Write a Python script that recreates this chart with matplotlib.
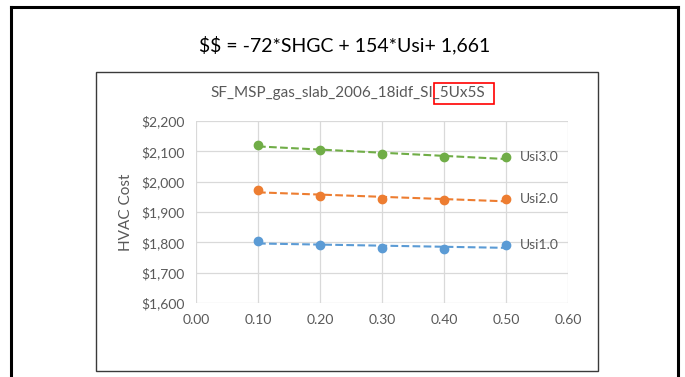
import numpy as np
import matplotlib
matplotlib.use("Agg")
import matplotlib.pyplot as plt
from matplotlib.patches import Rectangle
from matplotlib.lines import Line2D

plt.rcParams['font.family'] = ['Lato', 'DejaVu Sans']
plt.rcParams['text.parse_math'] = False

# ---- data ----
shgc = [0.10, 0.20, 0.30, 0.40, 0.50]
usi1 = [1804, 1790, 1781, 1778, 1792]
usi2 = [1972, 1954, 1943, 1938, 1943]
usi3 = [2122, 2103, 2090, 2081, 2081]
series_names = ["Usi1.0", "Usi2.0", "Usi3.0"]
series_colors = ["#5B9BD5", "#ED7D31", "#70AD47"]
x_ticks = [0.00, 0.10, 0.20, 0.30, 0.40, 0.50, 0.60]
y_ticks = [1600, 1700, 1800, 1900, 2000, 2100, 2200]
equation = "$$ = -72*SHGC + 154*Usi+ 1,661"
chart_title = "SF_MSP_gas_slab_2006_18idf_SI"
chart_title_boxed = "_5Ux5S"
y_label = "HVAC Cost"

W, H = 685, 377
fig = plt.figure(figsize=(W / 100, H / 100), dpi=100)
fig.patch.set_facecolor("white")

def fx(px):
    return px / W

def fy(py):
    return 1 - py / H

# outer black frame (bottom edge runs off the picture)
for xs, ys in [([11, 11], [7, H + 5]), ([11, 678], [7, 7]), ([678, 678], [7, H + 5])]:
    fig.add_artist(Line2D([fx(v) for v in xs], [fy(v) for v in ys], color="black", lw=2.2,
                          transform=fig.transFigure))

# inner chart frame
fig.add_artist(Rectangle((fx(96), fy(371)), fx(598) - fx(96), fy(72) - fy(371),
                         transform=fig.transFigure, fill=False, edgecolor="#3a3a3a", lw=1.0))

# equation
fig.text(fx(345), fy(45), equation, ha="center", va="center", fontsize=14, color="black",
         parse_math=False)

# chart title with red box around the last part
title_fs = 11
full_title = chart_title + chart_title_boxed
t = fig.text(fx(348), fy(93), full_title, ha="center", va="center", fontsize=title_fs, color="#595959")
fig.canvas.draw()
r = fig.canvas.get_renderer()
bb_full = t.get_window_extent(r)
tmp = fig.text(0, 0, chart_title, fontsize=title_fs)
w_pre = tmp.get_window_extent(r).width
tmp.remove()
x0 = bb_full.x0 + w_pre + 1
x1 = bb_full.x1 + 9
y0_px, y1_px = 83, 104
fig.add_artist(Rectangle((x0 / W, fy(y1_px)), (x1 - x0) / W, fy(y0_px) - fy(y1_px),
                         transform=fig.transFigure, fill=False, edgecolor="red", lw=1.2))

# plot area
ax = fig.add_axes([fx(196), fy(303), fx(568) - fx(196), fy(121) - fy(303)])
ax.set_xlim(x_ticks[0], x_ticks[-1])
ax.set_ylim(y_ticks[0], y_ticks[-1])
ax.set_xticks(x_ticks)
ax.set_yticks(y_ticks)
ax.set_xticklabels([f"{v:.2f}" for v in x_ticks])
ax.set_yticklabels([f"${v:,.0f}" for v in y_ticks])
ax.grid(True, color="#D9D9D9", lw=0.9)
ax.set_axisbelow(True)
for s in ax.spines.values():
    s.set_visible(False)
ax.tick_params(length=0, labelsize=10, labelcolor="#595959", pad=8)
ax.set_ylabel(y_label, fontsize=11, color="#595959", labelpad=6)

xa = np.array(shgc)
for vals, name, col in zip([usi1, usi2, usi3], series_names, series_colors):
    ax.plot(shgc, vals, "o", color=col, ms=6, zorder=3)
    k, b = np.polyfit(xa, np.array(vals), 1)
    ax.plot(xa[[0, -1]], k * xa[[0, -1]] + b, "--", color=col, lw=1.5, zorder=2)
    ax.text(0.522, vals[-1], name, ha="left", va="center", fontsize=10, color="#595959")

fig.savefig("out.png", dpi=100)
